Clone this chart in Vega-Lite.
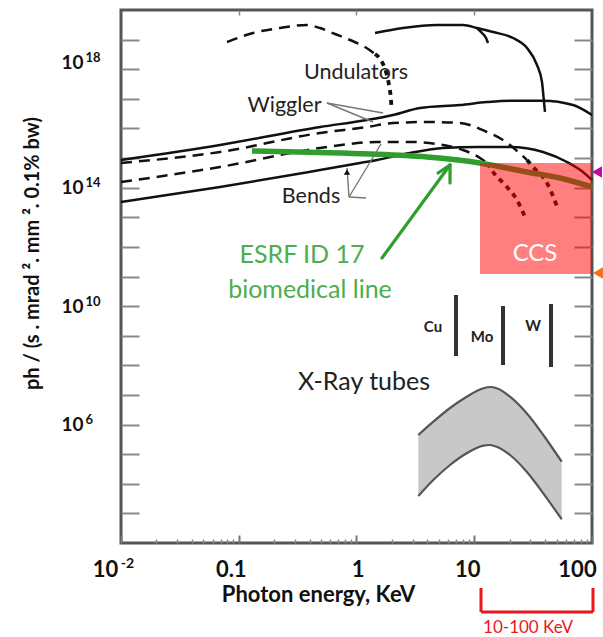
{
  "$schema": "https://vega.github.io/schema/vega-lite/v6.json",
  "width": 471,
  "height": 533,
  "autosize": {"type": "none"},
  "padding": {"left": 121, "top": 10, "right": 11, "bottom": 94},
  "background": "white",
  "config": {
    "view": {"stroke": "#555", "strokeWidth": 3},
    "font": "Lato",
    "axis": {"grid": false, "domain": false, "labelFont": "Lato", "titleFont": "Lato"}
  },
  "datasets": {
    "solid": [
      {"g": "u1", "x": 1.436, "y": 1.672e19}, {"g": "u1", "x": 2.482, "y": 2.467e19}, {"g": "u1", "x": 4.827, "y": 3.114e19},
      {"g": "u1", "x": 8.025, "y": 3.114e19}, {"g": "u1", "x": 10.55, "y": 2.467e19}, {"g": "u1", "x": 14.43, "y": 1.807e19},
      {"g": "u1", "x": 21.33, "y": 1.133e19}, {"g": "u1", "x": 28.05, "y": 5.209e18}, {"g": "u1", "x": 34.12, "y": 1.389e18},
      {"g": "u1", "x": 37.61, "y": 3.703e17}, {"g": "u1", "x": 39.11, "y": 7.82e16}, {"g": "u1", "x": 39.89, "y": 3.593e16},
      {"g": "u2", "x": 10.55, "y": 2.467e19}, {"g": "u2", "x": 11.64, "y": 1.672e19}, {"g": "u2", "x": 12.59, "y": 1.133e19}, {"g": "u2", "x": 13.09, "y": 7.685e18},
      {"g": "w", "x": 0.01, "y": 8.6e14}, {"g": "w", "x": 0.06931, "y": 2.76e15}, {"g": "w", "x": 0.4898, "y": 1.119e16},
      {"g": "w", "x": 1.228, "y": 1.929e16}, {"g": "w", "x": 2.042, "y": 2.845e16}, {"g": "w", "x": 3.462, "y": 4.9e16},
      {"g": "w", "x": 7.568, "y": 6.19e16}, {"g": "w", "x": 12.83, "y": 7.82e16}, {"g": "w", "x": 20.12, "y": 8.65e16},
      {"g": "w", "x": 38.36, "y": 8.65e16}, {"g": "w", "x": 68.99, "y": 6.19e16}, {"g": "w", "x": 100, "y": 2.845e16},
      {"g": "b", "x": 0.01, "y": 3.281e13}, {"g": "b", "x": 0.06931, "y": 1.053e14}, {"g": "b", "x": 0.4898, "y": 3.95e14},
      {"g": "b", "x": 1.071, "y": 6.81e14}, {"g": "b", "x": 1.494, "y": 8.6e14}, {"g": "b", "x": 2.847, "y": 1.482e15},
      {"g": "b", "x": 5.429, "y": 2.185e15}, {"g": "b", "x": 10.55, "y": 2.362e15}, {"g": "b", "x": 20.12, "y": 2.362e15},
      {"g": "b", "x": 38.36, "y": 1.601e15}, {"g": "b", "x": 61.34, "y": 7.36e14}, {"g": "b", "x": 83.89, "y": 3.382e14},
      {"g": "b", "x": 100, "y": 1.815e14}
    ],
    "dashed": [
      {"g": "u", "x": 0.07948, "y": 8.305e18}, {"g": "u", "x": 0.1322, "y": 1.672e19}, {"g": "u", "x": 0.224, "y": 2.467e19},
      {"g": "u", "x": 0.3799, "y": 3.114e19}, {"g": "u", "x": 0.4898, "y": 2.467e19}, {"g": "u", "x": 0.6571, "y": 1.547e19},
      {"g": "u", "x": 0.8806, "y": 9.7e18}, {"g": "u", "x": 1.181, "y": 5.63e18}, {"g": "u", "x": 1.436, "y": 3.267e18},
      {"g": "w", "x": 0.01, "y": 6.81e14}, {"g": "w", "x": 0.06931, "y": 1.601e15}, {"g": "w", "x": 0.4898, "y": 7.018e15},
      {"g": "w", "x": 1.228, "y": 1.119e16}, {"g": "w", "x": 2.042, "y": 1.528e16}, {"g": "w", "x": 3.969, "y": 1.651e16},
      {"g": "w", "x": 7.568, "y": 1.528e16}, {"g": "w", "x": 12.83, "y": 7.585e15}, {"g": "w", "x": 17.55, "y": 4.071e15},
      {"g": "w", "x": 28.05, "y": 8.6e14},
      {"g": "b", "x": 0.01, "y": 1.554e14}, {"g": "b", "x": 0.06931, "y": 4.99e14}, {"g": "b", "x": 0.4898, "y": 2.185e15},
      {"g": "b", "x": 1.494, "y": 3.485e15}, {"g": "b", "x": 2.847, "y": 3.485e15}, {"g": "b", "x": 5.429, "y": 2.76e15},
      {"g": "b", "x": 8.025, "y": 1.871e15}, {"g": "b", "x": 11.19, "y": 1.004e15}, {"g": "b", "x": 12.83, "y": 6.81e14}
    ],
    "dotted": [
      {"g": "u", "x": 1.436, "y": 3.267e18}, {"g": "u", "x": 1.646, "y": 1.754e18}, {"g": "u", "x": 1.781, "y": 8.058e17},
      {"g": "u", "x": 1.888, "y": 2.933e17}, {"g": "u", "x": 1.963, "y": 9.13e16}, {"g": "u", "x": 1.983, "y": 4.9e16},
      {"g": "w", "x": 28.05, "y": 8.6e14}, {"g": "w", "x": 31.55, "y": 4.99e14}, {"g": "w", "x": 41.48, "y": 1.438e14}, {"g": "w", "x": 51.43, "y": 1.904e13},
      {"g": "b", "x": 12.83, "y": 6.81e14}, {"g": "b", "x": 14.43, "y": 3.382e14}, {"g": "b", "x": 18.98, "y": 1.053e14},
      {"g": "b", "x": 23.07, "y": 3.833e13}, {"g": "b", "x": 26.98, "y": 1.022e13}
    ],
    "green": [
      {"x": 0.1296, "y": 1.731e15}, {"x": 0.4898, "y": 1.54e15}, {"x": 1.302, "y": 1.371e15}, {"x": 3.969, "y": 1.086e15},
      {"x": 11.19, "y": 6.81e14}, {"x": 28.05, "y": 3.382e14}, {"x": 53.48, "y": 2.121e14}, {"x": 100, "y": 1.053e14}
    ],
    "tubes": [
      {"x": 3.349, "y": 4.438e5, "y2": 3867}, {"x": 4.49, "y": 1.249e6, "y2": 13420}, {"x": 6.225, "y": 3.624e6, "y2": 43070},
      {"x": 8.629, "y": 8.724e6, "y2": 107000}, {"x": 11.94, "y": 1.676e7, "y2": 193200}, {"x": 13.61, "y": 1.855e7, "y2": 203900},
      {"x": 15.51, "y": 1.676e7, "y2": 178700}, {"x": 20.12, "y": 8.724e6, "y2": 93740}, {"x": 27.89, "y": 2.4e6, "y2": 25580},
      {"x": 38.58, "y": 4.438e5, "y2": 4770}, {"x": 55.29, "y": 55670, "y2": 631.5}
    ],
    "ccs": [{"x": 11.19, "x2": 100, "y": 6.81e14, "y2": 1.215e11}],
    "bars": [
      {"name": "Cu", "x": 6.998, "y": 2.373e10, "y2": 2.067e8},
      {"name": "Mo", "x": 17.55, "y": 1.009e10, "y2": 1.026e8},
      {"name": "W", "x": 44.86, "y": 1.178e10, "y2": 8.785e7}
    ],
    "pointers": [
      {"x": 0.5616, "y": 7.234e16, "x2": 1.6797, "y2": 3.323e16},
      {"x": 0.5616, "y": 7.234e16, "x2": 1.381, "y2": 1.651e16},
      {"x": 0.8636, "y": 4.838e13, "x2": 0.8305, "y2": 4.616e14},
      {"x": 0.8636, "y": 4.838e13, "x2": 1.6145, "y2": 2.984e15},
      {"x": 0.8636, "y": 4.838e13, "x2": 1.2043, "y2": 4.478e13}
    ],
    "garrow": [
      {"x": 1.646, "y": 4.215e11, "x2": 6.225, "y2": 5.83e14},
      {"x": 4.923, "y": 3.128e14, "x2": 6.225, "y2": 5.83e14},
      {"x": 6.225, "y": 1.438e14, "x2": 6.225, "y2": 5.83e14}
    ],
    "bracket": [
      {"x": 11.41, "y": 3.023, "x2": 11.41, "y2": 0.4677},
      {"x": 11.41, "y": 0.4677, "x2": 101.97, "y2": 0.4677},
      {"x": 101.97, "y": 3.023, "x2": 101.97, "y2": 0.4677}
    ],
    "tri": [
      {"k": "magenta", "x": 110.3, "y": 3.38e14},
      {"k": "orange", "x": 112.4, "y": 1.313e11}
    ],
    "heads": [{"x": 0.8305, "y": 3.382e14}],
    "t_black": [
      {"label": "Undulators", "x": 0.9903, "y": 7.456e17},
      {"label": "Wiggler", "x": 0.2446, "y": 5.728e16},
      {"label": "Bends", "x": 0.4108, "y": 4.838e13}
    ],
    "t_tubes": [{"label": "X-Ray tubes", "x": 1.158, "y": 2.736e7}],
    "t_green": [
      {"label": "ESRF ID 17", "x": 0.3445, "y": 5.322e11},
      {"label": "biomedical line", "x": 0.4028, "y": 3.501e10}
    ],
    "t_ccs": [{"label": "CCS", "x": 32.81, "y": 5.753e11}],
    "t_elem": [
      {"label": "Cu", "x": 4.464, "y": 1.97e9},
      {"label": "Mo", "x": 11.64, "y": 9.056e8},
      {"label": "W", "x": 31.55, "y": 2.13e9}
    ],
    "t_red": [{"label": "10-100 KeV", "x": 28.61, "y": 0.1347}]
  },
  "encoding": {
    "x": {"field": "x", "type": "quantitative", "scale": {"type": "log", "domain": [0.01, 100], "nice": false}, "axis": null},
    "y": {"field": "y", "type": "quantitative", "scale": {"type": "log", "domain": [100, 1e20], "nice": false}, "axis": null}
  },
  "resolve": {"axis": {"x": "independent", "y": "independent"}},
  "layer": [
    {
      "data": {"name": "tubes"},
      "mark": {"type": "area", "fill": "#c8c8c8", "opacity": 1},
      "encoding": {
        "x": {"field": "x", "type": "quantitative", "scale": {"type": "log", "domain": [0.01, 100], "nice": false},
          "axis": {"orient": "bottom", "offset": -8, "tickSize": 8, "tickOpacity": 0, "values": [0.01], "labelExpr": "'-2'",
            "labelFontSize": 14, "labelFontWeight": "bold", "labelColor": "#111", "labelPadding": 13, "labelOffset": 6,
            "labelFlush": false, "labelBound": false, "labelOverlap": false, "title": null}},
        "y": {"field": "y", "type": "quantitative", "scale": {"type": "log", "domain": [100, 1e20], "nice": false},
          "axis": {"orient": "left", "offset": -18, "tickSize": 18, "tickOpacity": 0, "values": [1e6, 1e10, 1e14, 1e18],
            "labelExpr": "datum.value == 1e18 ? '18' : datum.value == 1e14 ? '14' : datum.value == 1e10 ? '10' : '6'",
            "labelAlign": "left", "labelBaseline": "middle", "labelPadding": 36, "labelFontSize": 13, "labelFontWeight": "bold", "labelColor": "#111",
            "labelOffset": {"condition": {"test": "datum.value == 1e18", "value": -12}, "value": -5},
            "labelFlush": false, "labelBound": false, "labelOverlap": false, "title": null}},
        "y2": {"field": "y2"}
      }
    },
    {
      "data": {"name": "tubes"},
      "mark": {"type": "line", "stroke": "#555", "strokeWidth": 2.2, "interpolate": "monotone"}
    },
    {
      "data": {"name": "tubes"},
      "mark": {"type": "line", "stroke": "#555", "strokeWidth": 2.2, "interpolate": "monotone"},
      "encoding": {"y": {"field": "y2", "type": "quantitative", "scale": {"type": "log", "domain": [100, 1e20], "nice": false}, "axis": null}}
    },
    {
      "data": {"name": "solid"},
      "mark": {"type": "line", "stroke": "#111", "strokeWidth": 2.5, "interpolate": "monotone"},
      "encoding": {
        "x": {"field": "x", "type": "quantitative", "scale": {"type": "log", "domain": [0.01, 100], "nice": false},
          "axis": {"orient": "bottom", "offset": -8, "tickSize": 8, "tickWidth": 2, "tickColor": "#777",
            "values": [0.01, 0.1, 1, 10, 100],
            "labelExpr": "datum.value < 0.05 ? '10' : datum.value < 0.5 ? '0.1' : datum.value < 5 ? '1' : datum.value < 50 ? '10' : '100'",
            "labelFontSize": 22, "labelFontWeight": "bold", "labelColor": "#111", "labelPadding": 16,
            "labelOffset": {"condition": [{"test": "datum.value < 0.05", "value": -16}, {"test": "datum.value < 0.5", "value": -8}, {"test": "datum.value < 5", "value": 1}, {"test": "datum.value < 50", "value": -7}], "value": -15},
            "labelFlush": false, "labelBound": false, "labelOverlap": false,
            "title": "Photon energy, KeV", "titleFontSize": 22, "titleFontWeight": "bold", "titleColor": "#111",
            "titleX": 197, "titleY": 59, "titleBaseline": "middle", "titleAlign": "center"}},
        "y": {"field": "y", "type": "quantitative", "scale": {"type": "log", "domain": [100, 1e20], "nice": false},
          "axis": {"orient": "left", "offset": -18, "tickSize": 18, "tickWidth": 2, "tickColor": "#888",
            "values": [1e3, 1e4, 1e5, 1e6, 1e7, 1e8, 1e9, 1e10, 1e11, 1e12, 1e13, 1e14, 1e15, 1e16, 1e17, 1e18, 1e19],
            "labelExpr": "(datum.value == 1e18 || datum.value == 1e14 || datum.value == 1e10 || datum.value == 1e6) ? '10' : ''",
            "labelFontSize": 19, "labelFontWeight": "bold", "labelColor": "#111", "labelPadding": 38, "labelBaseline": "middle",
            "labelOffset": {"condition": {"test": "datum.value == 1e18", "value": -7}, "value": 0},
            "labelFlush": false, "labelBound": false, "labelOverlap": false,
            "title": "ph / (s . mrad ². mm ². 0.1% bw)", "titleFontSize": 20, "titleFontWeight": "bold", "titleColor": "#111",
            "titleAngle": -90, "titleX": -107, "titleY": 243, "titleBaseline": "middle", "titleAlign": "center"}},
        "detail": {"field": "g"}
      }
    },
    {
      "data": {"name": "dashed"},
      "mark": {"type": "line", "stroke": "#111", "strokeWidth": 2.5, "strokeDash": [11, 7], "interpolate": "monotone"},
      "encoding": {
        "x": {"field": "x", "type": "quantitative", "scale": {"type": "log", "domain": [0.01, 100], "nice": false},
          "axis": {"orient": "bottom", "offset": -4, "tickSize": 4, "tickWidth": 1.5, "tickColor": "#888", "labels": false, "title": null,
            "values": [0.02, 0.03, 0.04, 0.05, 0.06, 0.07, 0.08, 0.09, 0.2, 0.3, 0.4, 0.5, 0.6, 0.7, 0.8, 0.9, 2, 3, 4, 5, 6, 7, 8, 9, 20, 30, 40, 50, 60, 70, 80, 90]}},
        "y": {"field": "y", "type": "quantitative", "scale": {"type": "log", "domain": [100, 1e20], "nice": false},
          "axis": {"orient": "right", "offset": -18, "tickSize": 18, "tickWidth": 2, "tickColor": "#888", "labels": false, "title": null,
            "values": [1e3, 1e4, 1e5, 1e6, 1e7, 1e8, 1e9, 1e10, 1e11, 1e12, 1e13, 1e14, 1e15, 1e16, 1e17, 1e18, 1e19]}},
        "detail": {"field": "g"}
      }
    },
    {
      "data": {"name": "dotted"},
      "mark": {"type": "line", "stroke": "#111", "strokeWidth": 3.8, "strokeDash": [5, 5], "interpolate": "monotone"},
      "encoding": {
        "x": {"field": "x", "type": "quantitative", "scale": {"type": "log", "domain": [0.01, 100], "nice": false},
          "axis": {"orient": "top", "offset": -5, "tickSize": 5, "tickWidth": 1.5, "tickColor": "#888", "labels": false, "title": null, "values": [0.1, 1, 10]}},
        "detail": {"field": "g"}
      }
    },
    {
      "data": {"name": "green"},
      "mark": {"type": "line", "stroke": "#2f9e2f", "strokeWidth": 5.5, "interpolate": "monotone"}
    },
    {
      "data": {"name": "ccs"},
      "mark": {"type": "rect", "fill": "#ff0000", "opacity": 0.5},
      "encoding": {"x2": {"field": "x2"}, "y2": {"field": "y2"}}
    },
    {
      "data": {"name": "bars"},
      "mark": {"type": "rule", "stroke": "#333", "strokeWidth": 4},
      "encoding": {"y2": {"field": "y2"}}
    },
    {
      "data": {"name": "pointers"},
      "mark": {"type": "rule", "stroke": "#777", "strokeWidth": 1.4},
      "encoding": {"x2": {"field": "x2"}, "y2": {"field": "y2"}}
    },
    {
      "data": {"name": "heads"},
      "mark": {"type": "point", "shape": "triangle-up", "filled": true, "color": "#111", "size": 40, "opacity": 1}
    },
    {
      "data": {"name": "garrow"},
      "mark": {"type": "rule", "stroke": "#2f9e2f", "strokeWidth": 3.2, "strokeCap": "round"},
      "encoding": {"x2": {"field": "x2"}, "y2": {"field": "y2"}}
    },
    {
      "data": {"name": "bracket"},
      "mark": {"type": "rule", "stroke": "#e8181e", "strokeWidth": 3},
      "encoding": {"x2": {"field": "x2"}, "y2": {"field": "y2"}}
    },
    {
      "data": {"name": "tri"},
      "mark": {"type": "point", "shape": "triangle-left", "filled": true, "size": 130, "opacity": 1},
      "encoding": {"color": {"field": "k", "type": "nominal", "scale": {"domain": ["magenta", "orange"], "range": ["#c8009f", "#f07020"]}, "legend": null}}
    },
    {
      "data": {"name": "t_black"},
      "mark": {"type": "text", "font": "Lato", "fontSize": 21.5, "color": "#222", "align": "center", "baseline": "middle"},
      "encoding": {"text": {"field": "label"}}
    },
    {
      "data": {"name": "t_tubes"},
      "mark": {"type": "text", "font": "Lato", "fontSize": 25, "color": "#222", "align": "center", "baseline": "middle"},
      "encoding": {"text": {"field": "label"}}
    },
    {
      "data": {"name": "t_green"},
      "mark": {"type": "text", "font": "Lato", "fontSize": 25, "color": "#4cae4c", "align": "center", "baseline": "middle"},
      "encoding": {"text": {"field": "label"}}
    },
    {
      "data": {"name": "t_ccs"},
      "mark": {"type": "text", "font": "Lato", "fontSize": 24, "color": "white", "align": "center", "baseline": "middle"},
      "encoding": {"text": {"field": "label"}}
    },
    {
      "data": {"name": "t_elem"},
      "mark": {"type": "text", "font": "Lato", "fontSize": 15, "fontWeight": "bold", "color": "#222", "align": "center", "baseline": "middle"},
      "encoding": {"text": {"field": "label"}}
    },
    {
      "data": {"name": "t_red"},
      "mark": {"type": "text", "font": "Lato", "fontSize": 17, "color": "#e8181e", "align": "center", "baseline": "middle"},
      "encoding": {"text": {"field": "label"}}
    }
  ]
}
